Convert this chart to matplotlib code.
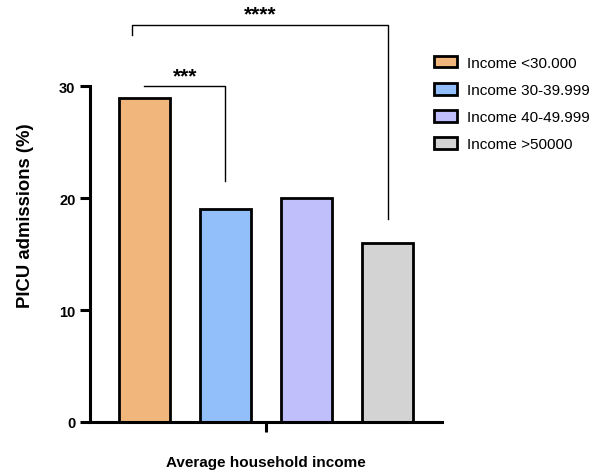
import matplotlib
matplotlib.use('Agg')
import matplotlib.pyplot as plt
from matplotlib.patches import Patch

# data
groups = ['Income <30.000', 'Income 30-39.999', 'Income 40-49.999', 'Income >50000']
admissions = [29, 19, 20, 16]
colors = ['#F0B67C', '#92BFF9', '#C1BEFC', '#D3D3D3']

# significance brackets: (left x, right x, height, left drop, right drop, label)
brackets = [
    (0.0, 1.0, 30.0, 30.0, 21.5, '***'),
    (-0.15, 3.0, 35.5, 34.6, 18.1, '****'),
]

plt.rcParams['font.family'] = ['Liberation Sans', 'DejaVu Sans']

fig = plt.figure(figsize=(5.97, 4.77), dpi=100)
ax = fig.add_axes([90/597, 54/477, 352/597, 414/477])

x = range(len(groups))
ax.bar(x, admissions, width=0.63, color=colors, edgecolor='black', linewidth=2.0, zorder=2)

for a, b, h, dl, dr, lab in brackets:
    ax.plot([a, a, b, b], [dl, h, h, dr], color='black', lw=1.0, clip_on=False)
    ax.text((a + b) / 2, h + 0.45, lab, ha='center', va='baseline',
            fontsize=15, fontweight='bold')

ax.set_xlim(-0.67, 3.67)
ax.set_ylim(0, 37)
ax.spines['top'].set_visible(False)
ax.spines['right'].set_visible(False)
ax.spines['left'].set_bounds(0, 30)
ax.spines['left'].set_linewidth(2.2)
ax.spines['bottom'].set_linewidth(2.2)

ax.set_yticks([0, 10, 20, 30])
ax.set_xticks([1.5])
ax.set_xticklabels([''])
ax.tick_params(axis='both', width=2.2, length=7, labelsize=10.5)
for t in ax.get_yticklabels():
    t.set_fontweight('bold')

ax.set_ylabel('PICU admissions (%)', fontsize=13.3, fontweight='bold', labelpad=18)
ax.set_xlabel('Average household income', fontsize=11, fontweight='bold', labelpad=13)

handles = [Patch(facecolor=c, edgecolor='black', linewidth=2.0) for c in colors]
fig.legend(handles, groups, loc='upper left', bbox_to_anchor=(420/597, 1 - 43/477),
           frameon=False, fontsize=11, handlelength=1.5, handleheight=0.8,
           labelspacing=0.85, handletextpad=0.7)

fig.savefig('out.png', dpi=100)
